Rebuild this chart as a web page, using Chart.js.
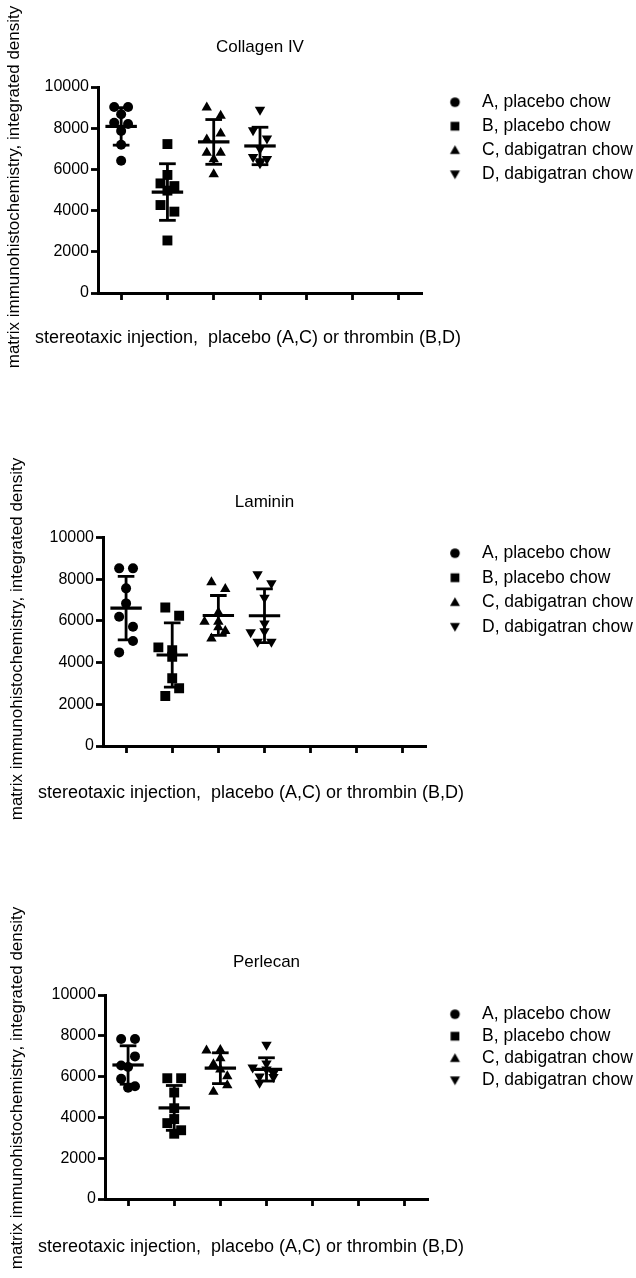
<!DOCTYPE html>
<html><head><meta charset="utf-8">
<script src="https://cdn.jsdelivr.net/npm/chart.js@4/dist/chart.umd.min.js"></script>
<style>
html,body{margin:0;padding:0;background:#fff;}
#wrap{position:relative;width:636px;height:1278px;overflow:hidden;background:#fff;}
canvas{position:absolute;left:0;}
</style></head><body>
<div id="wrap">
<canvas id="c1" width="636" height="440" style="top:0px"></canvas>
<canvas id="c2" width="636" height="440" style="top:440px"></canvas>
<canvas id="c3" width="636" height="398" style="top:880px"></canvas>
</div>
<script>
// ---------- data ----------
const groupNames = ['A, placebo chow', 'B, placebo chow', 'C, dabigatran chow', 'D, dabigatran chow'];
const groupPositions = [1, 2, 3, 4];
const axisTickPositions = [1, 2, 3, 4, 5, 6, 7];
const yTickValues = [0, 2000, 4000, 6000, 8000, 10000];
const yTitleText = 'matrix immunohistochemistry, integrated density';
const xTitleText = 'stereotaxic injection,  placebo (A,C) or thrombin (B,D)';
const panelTitles = ['Collagen IV', 'Laminin', 'Perlecan'];

// Collagen IV
const collagenA = [9030, 9030, 8680, 8260, 8200, 7870, 7200, 6420];
const collagenB = [7230, 5730, 5320, 5190, 4970, 4270, 3950, 2550];
const collagenC = [9000, 8600, 7740, 7450, 6810, 6810, 6490, 5770];
const collagenD = [8900, 7900, 7500, 7000, 6600, 6500, 6400, 6300];
const collagenSideA = [-1, 1, 0, -1, 1, 0, 0, 0];
const collagenSideB = [0, 0, -1, 1, 0, -1, 1, 0];
const collagenSideC = [-1, 1, 1, -1, -1, 1, 0, 0];
const collagenSideD = [0, -1, 1, 0, -1, 1, 0, 0];

// Laminin
const lamininA = [8520, 8520, 7560, 6840, 6200, 5720, 5040, 4490];
const lamininB = [6640, 6250, 4730, 4600, 4280, 3250, 2770, 2400];
const lamininC = [7850, 7530, 6400, 5960, 5960, 5700, 5520, 5160];
const lamininD = [8240, 7800, 7110, 5880, 5450, 5500, 5000, 5000];
const lamininSideA = [-1, 1, 0, 0, -1, 1, 1, -1];
const lamininSideB = [-1, 1, -2, 0, 0, 0, 1, -1];
const lamininSideC = [-1, 1, 0, -2, 0, 0, 1, -1];
const lamininSideD = [-1, 1, 0, 0, -2, 0, -1, 1];

// Perlecan
const perlecanA = [7840, 7840, 6990, 6540, 6470, 5890, 5530, 5450];
const perlecanB = [5920, 5920, 5220, 4450, 3920, 3720, 3370, 3200];
const perlecanC = [7280, 7300, 6900, 6600, 6350, 6020, 5580, 5260];
const perlecanD = [7560, 6640, 6440, 6350, 6150, 6000, 5980, 5700];
const perlecanSideA = [-1, 1, 1, -1, 0, -1, 1, 0];
const perlecanSideB = [-1, 1, 0, 0, 0, -1, 1, 0];
const perlecanSideC = [-2, 0, 0, -1, 0, 1, 1, -1];
const perlecanSideD = [0, 0, -2, 0, 1, -1, 1, -1];

// ---------- styling / layout ----------
const FONT = '"Liberation Sans", Arial, Helvetica, sans-serif';
Chart.defaults.font.family = FONT;
Chart.defaults.color = '#000';

const jitterStep = 0.15;
const meanHalf = 0.34;
const capHalf = 0.18;
const markerStyles = ['circle', 'rect', 'triangle', 'triangle'];
const markerRotations = [0, 0, 0, 180];
const markerRadius = [5, 7, 6, 6];
const titleSize = 17, tickSize = 16, legendSize = 17.5, axisTitleSize = 18;
const legendMarkerX = 455, legendTextX = 482;

const panels = [
  { id: 'c1', title: panelTitles[0], groups: [collagenA, collagenB, collagenC, collagenD],
    sides: [collagenSideA, collagenSideB, collagenSideC, collagenSideD],
    left: 98, right: 422, areaTop: 87, areaBottom: 293, height: 440, titleY: 47,
    xTitleX: 248, xTitleY: 338, yTitleX: 14, yTitleY: 187, legendPad: 6.5, legendShift: 0 },
  { id: 'c2', title: panelTitles[1], groups: [lamininA, lamininB, lamininC, lamininD],
    sides: [lamininSideA, lamininSideB, lamininSideC, lamininSideD],
    left: 103, right: 426, areaTop: 97.5, areaBottom: 306, height: 440, titleY: 62,
    xTitleX: 251, xTitleY: 353, yTitleX: 17, yTitleY: 199, legendPad: 7, legendShift: 0 },
  { id: 'c3', title: panelTitles[2], groups: [perlecanA, perlecanB, perlecanC, perlecanD],
    sides: [perlecanSideA, perlecanSideB, perlecanSideC, perlecanSideD],
    left: 105, right: 428, areaTop: 115, areaBottom: 319, height: 398, titleY: 82,
    xTitleX: 251, xTitleY: 367, yTitleX: 17, yTitleY: 208, legendPad: 4.5, legendShift: 6 }
];

function meanSd(a) {
  const m = a.reduce((s, v) => s + v, 0) / a.length;
  const sd = Math.sqrt(a.reduce((s, v) => s + (v - m) * (v - m), 0) / (a.length - 1));
  return [m, sd];
}

function drawMarker(ctx, g, x, y) {
  ctx.beginPath();
  if (g === 0) { ctx.arc(x, y, 4.8, 0, Math.PI * 2); }
  else if (g === 1) { ctx.rect(x - 4.4, y - 4.4, 8.8, 8.8); }
  else if (g === 2) { ctx.moveTo(x, y - 5); ctx.lineTo(x + 5, y + 3.8); ctx.lineTo(x - 5, y + 3.8); }
  else { ctx.moveTo(x, y + 5); ctx.lineTo(x + 5, y - 3.8); ctx.lineTo(x - 5, y - 3.8); }
  ctx.closePath();
  ctx.fill();
}

function markerImage(g, p, boxW) {
  const c = document.createElement('canvas');
  const w = Math.round(boxW);
  c.width = w; c.height = 16;
  const ctx = c.getContext('2d');
  ctx.fillStyle = '#000';
  const imgLeft = p.right + p.legendPad + boxW / 2 - w / 2;
  drawMarker(ctx, g, legendMarkerX - imgLeft, 8);
  return c;
}

const axisTitlePlugin = {
  id: 'axisTitles',
  afterDraw(chart, args, o) {
    const ctx = chart.ctx;
    ctx.save();
    ctx.fillStyle = '#000';
    ctx.font = axisTitleSize + 'px ' + FONT;
    ctx.textAlign = 'center';
    ctx.textBaseline = 'middle';
    ctx.fillText(o.xText, o.xX, o.xY);
    ctx.translate(o.yX, o.yY);
    ctx.rotate(-Math.PI / 2);
    ctx.font = '17px ' + FONT;
    ctx.fillText(o.yText, 0, 0);
    ctx.restore();
  }
};

panels.forEach(p => {
  const datasets = [];
  p.groups.forEach((vals, g) => {
    datasets.push({
      label: groupNames[g],
      data: vals.map((v, i) => ({ x: groupPositions[g] + p.sides[g][i] * jitterStep, y: v })),
      pointStyle: markerStyles[g],
      pointRotation: markerRotations[g],
      pointRadius: markerRadius[g],
      pointHoverRadius: markerRadius[g],
      pointBackgroundColor: '#000',
      pointBorderColor: '#000',
      pointBorderWidth: 0,
      backgroundColor: '#000',
      borderColor: '#000',
      order: 1
    });
  });
  p.groups.forEach((vals, g) => {
    const [m, sd] = meanSd(vals);
    const x = groupPositions[g];
    const seg = (pts, w) => datasets.push({
      isErr: true, data: pts, showLine: true, borderColor: '#000', borderWidth: w,
      pointRadius: 0, pointHoverRadius: 0, order: 0, borderCapStyle: 'butt', fill: false
    });
    seg([{ x: x - meanHalf, y: m }, { x: x + meanHalf, y: m }], 3.2);
    seg([{ x: x, y: m - sd }, { x: x, y: m + sd }], 2.8);
    seg([{ x: x - capHalf, y: m + sd }, { x: x + capHalf, y: m + sd }], 2.8);
    seg([{ x: x - capHalf, y: m - sd }, { x: x + capHalf, y: m - sd }], 2.8);
  });

  const titleLH = titleSize * 1.2;
  const legendW = 636 - p.right;
  const boxW = legendTextX - p.right - p.legendPad - legendSize / 2;
  const xScaleH = p.height - p.areaBottom;

  new Chart(document.getElementById(p.id), {
    type: 'scatter',
    data: { datasets },
    plugins: [axisTitlePlugin],
    options: {
      responsive: false,
      animation: false,
      events: [],
      layout: { padding: 0 },
      scales: {
        x: {
          type: 'linear', min: 0.5, max: 7.5,
          afterBuildTicks: s => { s.ticks = axisTickPositions.map(v => ({ value: v })); },
          afterFit: s => { s.height = xScaleH; },
          ticks: { display: false },
          grid: { display: true, drawOnChartArea: false, drawTicks: true, tickLength: 7, tickWidth: 2.8, tickColor: '#000', color: '#000' },
          border: { display: true, color: '#000', width: 3 }
        },
        y: {
          type: 'linear', min: 0, max: 10000,
          afterBuildTicks: s => { s.ticks = yTickValues.map(v => ({ value: v })); },
          afterFit: s => { s.width = p.left; },
          ticks: { color: '#000', font: { size: tickSize }, padding: 2, callback: v => String(v) },
          grid: { display: true, drawOnChartArea: false, drawTicks: true, tickLength: 7, tickWidth: 2.8, tickColor: '#000', color: '#000' },
          border: { display: true, color: '#000', width: 3 }
        }
      },
      plugins: {
        tooltip: { enabled: false },
        title: {
          display: true, text: p.title, fullSize: false, color: '#000',
          font: { size: titleSize, weight: 'normal' },
          padding: { top: p.titleY - titleLH / 2, bottom: p.areaTop - p.titleY - titleLH / 2 }
        },
        legend: {
          display: true, position: 'right', align: 'start', fullSize: false, maxWidth: legendW,
          title: { display: p.legendShift > 0, text: ' ', font: { size: p.legendShift / 1.2 || 1 }, padding: 0 },
          labels: {
            usePointStyle: true, pointStyleWidth: boxW, padding: p.legendPad, color: '#000',
            font: { size: legendSize },
            generateLabels: chart => {
              const items = Chart.defaults.plugins.legend.labels.generateLabels(chart)
                .filter(it => !chart.data.datasets[it.datasetIndex].isErr);
              items.forEach(it => {
                it.pointStyle = markerImage(it.datasetIndex, p, boxW);
                it.rotation = 0;
                it.fontColor = '#000';
              });
              return items;
            }
          }
        },
        axisTitles: { xText: xTitleText, yText: yTitleText, xX: p.xTitleX, xY: p.xTitleY, yX: p.yTitleX, yY: p.yTitleY }
      }
    }
  });
});
</script>
</body></html>
